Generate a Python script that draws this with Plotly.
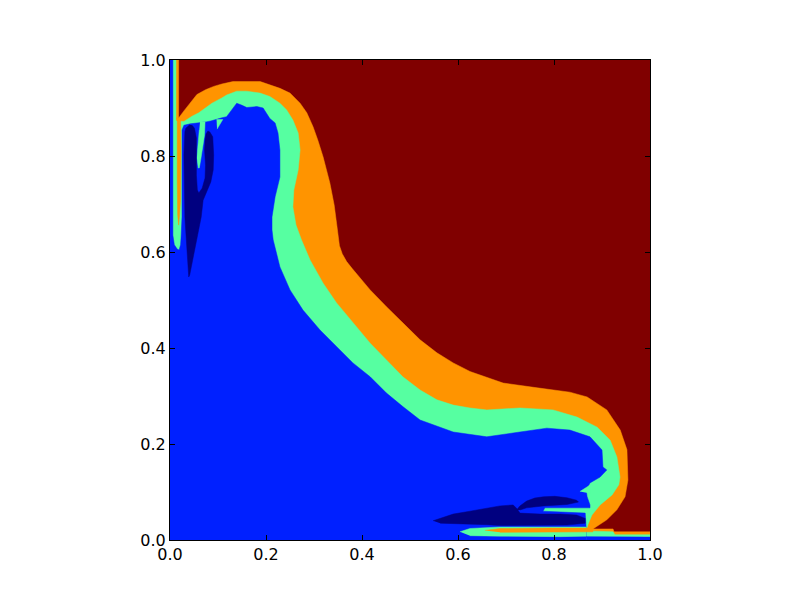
"""
Filled contour bands (jet colours) drawn as stacked filled regions.
"""

import plotly.graph_objects as go

# Band colours (jet)
COLOR_RED    = "#800000"
COLOR_ORANGE = "#FF9400"
COLOR_GREEN  = "#56FFA1"
COLOR_BLUE   = "#0020FF"
COLOR_NAVY   = "#000080"

TICKS = [0.0, 0.2, 0.4, 0.6, 0.8, 1.0]
TICK_TEXT = ["0.0", "0.2", "0.4", "0.6", "0.8", "1.0"]

# Outer edge of the orange band (everything left/below it)
ORANGE_X = [0, 0, 0.018, 0.018, 0.029, 0.039, 0.046, 0.056, 0.074, 0.091, 0.108, 0.131,
            0.188, 0.208, 0.229, 0.250, 0.271, 0.285, 0.298, 0.308, 0.319, 0.333, 0.342,
            0.347, 0.350, 0.353, 0.359, 0.368, 0.380, 0.395, 0.417, 0.451, 0.485, 0.521,
            0.556, 0.590, 0.625, 0.660, 0.694, 0.765, 0.833, 0.869, 0.910, 0.938, 0.952,
            0.954, 0.948, 0.931, 0.910, 0.881, 0.923, 0.925, 1, 1]
ORANGE_Y = [0, 1, 1, 0.879, 0.894, 0.907, 0.917, 0.928, 0.938, 0.945, 0.950, 0.955,
            0.955, 0.948, 0.941, 0.931, 0.910, 0.890, 0.861, 0.833, 0.798, 0.744, 0.698,
            0.660, 0.635, 0.613, 0.596, 0.580, 0.565, 0.548, 0.521, 0.486, 0.452, 0.417,
            0.390, 0.369, 0.351, 0.338, 0.327, 0.317, 0.308, 0.298, 0.271, 0.229, 0.188,
            0.125, 0.090, 0.063, 0.042, 0.023, 0.023, 0.017, 0.017, 0]

# Outer edge of the green band
GREEN_X = [0, 0, 0.0125, 0.0125, 0.029, 0.035, 0.046, 0.060, 0.074, 0.0875, 0.108, 0.118,
           0.139, 0.160, 0.1875, 0.208, 0.229, 0.243, 0.256, 0.267, 0.271, 0.267, 0.258,
           0.256, 0.2625, 0.274, 0.292, 0.319, 0.347, 0.381, 0.417, 0.451, 0.485, 0.521,
           0.556, 0.590, 0.625, 0.660, 0.729, 0.798, 0.848, 0.890, 0.917, 0.931, 0.9375,
           0.935, 0.921, 0.896, 0.879, 0.871, 0.867, 0.867, 0.923, 0.927, 1, 1]
GREEN_Y = [0, 1, 1, 0.873, 0.872, 0.876, 0.883, 0.890, 0.900, 0.910, 0.921, 0.927,
           0.935, 0.935, 0.931, 0.924, 0.910, 0.896, 0.875, 0.848, 0.8125, 0.771, 0.729,
           0.694, 0.656, 0.625, 0.583, 0.535, 0.494, 0.452, 0.410, 0.375, 0.340, 0.3125,
           0.292, 0.281, 0.275, 0.271, 0.275, 0.271, 0.256, 0.235, 0.208, 0.173, 0.131,
           0.115, 0.094, 0.073, 0.052, 0.033, 0.023, 0.019, 0.017, 0.011, 0.011, 0]

# Outer edge of the blue region
BLUE_X = [0, 0, 0.006, 0.006, 0.009, 0.015, 0.019, 0.022, 0.023, 0.025, 0.025, 0.029,
          0.042, 0.0625, 0.075, 0.085, 0.096, 0.106, 0.118, 0.1285, 0.139, 0.149, 0.160,
          0.181, 0.194, 0.208, 0.219, 0.225, 0.229, 0.229, 0.219, 0.2125, 0.2125, 0.215,
          0.229, 0.250, 0.277, 0.3125, 0.347, 0.381, 0.417, 0.451, 0.485, 0.521, 0.590,
          0.660, 0.729, 0.785, 0.833, 0.875, 0.900, 0.902, 0.910, 0.896, 0.875, 0.867,
          0.869, 0.875, 0.875, 0.781, 0.777, 0.865, 0.867, 0.867]
BLUE_Y = [0, 1, 1, 0.635, 0.615, 0.606, 0.604, 0.615, 0.629, 0.673, 0.854, 0.864,
          0.867, 0.869, 0.871, 0.873, 0.877, 0.879, 0.882, 0.896, 0.910, 0.906, 0.901,
          0.903, 0.900, 0.878, 0.869, 0.848, 0.8125, 0.756, 0.715, 0.673, 0.646, 0.625,
          0.569, 0.521, 0.479, 0.4375, 0.403, 0.369, 0.340, 0.306, 0.278, 0.250, 0.225,
          0.215, 0.225, 0.233, 0.229, 0.215, 0.1875, 0.152, 0.146, 0.131, 0.119, 0.104,
          0.090, 0.073, 0.067, 0.067, 0.060, 0.056, 0.025, 0]

# Small green pieces
FINGER_X = [0.0625, 0.073, 0.072, 0.068, 0.064, 0.061, 0.059, 0.056, 0.058, 0.061]
FINGER_Y = [0.871, 0.871, 0.844, 0.8125, 0.792, 0.775, 0.775, 0.796, 0.823, 0.854]
WEDGE_TOP_X = [0.097, 0.110, 0.098]
WEDGE_TOP_Y = [0.876, 0.876, 0.856]
WEDGE_RIGHT_X = [0.854, 0.876, 0.876]
WEDGE_RIGHT_Y = [0.101, 0.115, 0.097]
LENS_GREEN_X = [0.604, 0.625, 0.6875, 0.8125, 0.867, 0.867, 0.8125, 0.6875, 0.625]
LENS_GREEN_Y = [0.017, 0.024, 0.027, 0.028, 0.027, 0.008, 0.007, 0.008, 0.009]

# Small orange pieces
LENS_ORANGE_X = [0.656, 0.6875, 0.792, 0.881, 0.881, 0.792, 0.6875]
LENS_ORANGE_Y = [0.020, 0.024, 0.025, 0.025, 0.017, 0.016, 0.016]
STRIP_ORANGE_X = [0.0135, 0.022, 0.023, 0.022, 0.020, 0.018, 0.016, 0.015, 0.015]
STRIP_ORANGE_Y = [0.879, 0.879, 0.8125, 0.708, 0.677, 0.656, 0.677, 0.75, 0.873]

# Blue strip along the bottom right
STRIP_BLUE_X = [0.867, 1, 1, 0.867]
STRIP_BLUE_Y = [0.007, 0.006, 0, 0]

# Dark blue pockets
NAVY_LEFT_X = [0.041, 0.033, 0.031, 0.029, 0.031, 0.033, 0.035, 0.0375, 0.039, 0.041,
               0.046, 0.051, 0.058, 0.065, 0.069, 0.079, 0.085, 0.090, 0.091, 0.089,
               0.083, 0.079, 0.075, 0.073, 0.072, 0.074, 0.073, 0.067, 0.060, 0.057,
               0.055, 0.055, 0.055, 0.051, 0.046]
NAVY_LEFT_Y = [0.865, 0.858, 0.851, 0.802, 0.673, 0.640, 0.590, 0.556, 0.548, 0.552,
               0.577, 0.604, 0.640, 0.673, 0.708, 0.733, 0.746, 0.771, 0.802, 0.840,
               0.850, 0.852, 0.846, 0.833, 0.8125, 0.781, 0.754, 0.733, 0.723, 0.729,
               0.760, 0.802, 0.8375, 0.858, 0.864]
NAVY_LOW_X = [0.548, 0.590, 0.625, 0.660, 0.6875, 0.715, 0.723, 0.729, 0.771, 0.8125,
              0.847, 0.865, 0.865, 0.827, 0.756, 0.6875, 0.660, 0.590, 0.563]
NAVY_LOW_Y = [0.040, 0.054, 0.060, 0.067, 0.071, 0.073, 0.065, 0.056, 0.054, 0.054,
              0.052, 0.045, 0.035, 0.031, 0.030, 0.030, 0.032, 0.034, 0.035]
NAVY_UP_X = [0.722, 0.729, 0.743, 0.760, 0.778, 0.802, 0.827, 0.847, 0.851, 0.8375,
             0.827, 0.778, 0.743, 0.729]
NAVY_UP_Y = [0.0625, 0.071, 0.081, 0.0875, 0.090, 0.091, 0.088, 0.083, 0.079, 0.076,
             0.074, 0.071, 0.067, 0.0625]


def _region(xs, ys, color):
    return go.Scatter(
        x = xs, y = ys,
        mode = "lines",
        fill = "toself",
        fillcolor = color,
        line = dict(color = color, width = 0.5),
        hoverinfo = "skip",
        showlegend = False,
    )


fig = go.Figure()
layers = [
    (ORANGE_X, ORANGE_Y, COLOR_ORANGE),
    (GREEN_X, GREEN_Y, COLOR_GREEN),
    (BLUE_X, BLUE_Y, COLOR_BLUE),
    (FINGER_X, FINGER_Y, COLOR_GREEN),
    (WEDGE_TOP_X, WEDGE_TOP_Y, COLOR_GREEN),
    (WEDGE_RIGHT_X, WEDGE_RIGHT_Y, COLOR_GREEN),
    (LENS_GREEN_X, LENS_GREEN_Y, COLOR_GREEN),
    (LENS_ORANGE_X, LENS_ORANGE_Y, COLOR_ORANGE),
    (STRIP_ORANGE_X, STRIP_ORANGE_Y, COLOR_ORANGE),
    (STRIP_BLUE_X, STRIP_BLUE_Y, COLOR_BLUE),
    (NAVY_LEFT_X, NAVY_LEFT_Y, COLOR_NAVY),
    (NAVY_LOW_X, NAVY_LOW_Y, COLOR_NAVY),
    (NAVY_UP_X, NAVY_UP_Y, COLOR_NAVY),
]
for xs, ys, color in layers:
    fig.add_trace(_region(xs, ys, color))

axis_style = dict(
    range = [0, 1],
    tickvals = TICKS,
    ticktext = TICK_TEXT,
    ticks = "inside",
    ticklen = 5,
    tickwidth = 1,
    tickcolor = "black",
    showline = True,
    linecolor = "black",
    linewidth = 1,
    mirror = "ticks",
    showgrid = False,
    zeroline = False,
    fixedrange = True,
)

# the page body adds an 8px offset, so margins are shifted to compensate
fig.update_layout(
    width = 800,
    height = 600,
    margin = dict(l = 162, r = 158, t = 52, b = 68),
    plot_bgcolor = COLOR_RED,
    paper_bgcolor = "white",
    font = dict(family = "DejaVu Sans", size = 16, color = "black"),
    xaxis = dict(**axis_style),
    yaxis = dict(**axis_style),
    showlegend = False,
)

fig.write_html("out.html")
